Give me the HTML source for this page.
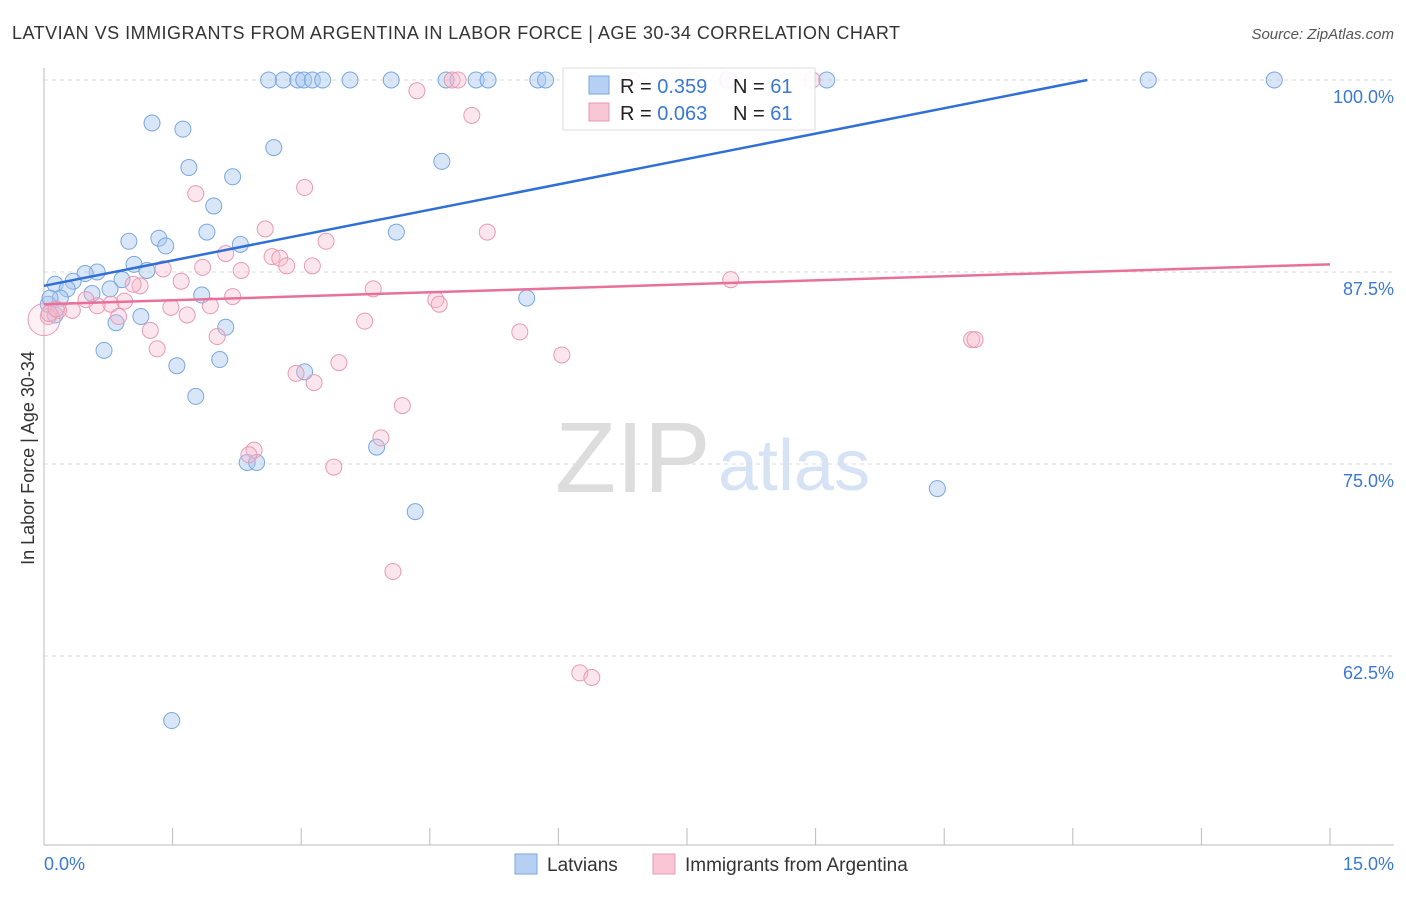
<!DOCTYPE html>
<html><head><meta charset="utf-8"><style>
body{margin:0;background:#fff;font-family:"Liberation Sans",sans-serif;}
svg text{font-family:"Liberation Sans",sans-serif;}
</style></head><body>
<svg id="c" width="1406" height="892">
<text x="12" y="39" font-size="18" fill="#333" textLength="888">LATVIAN VS IMMIGRANTS FROM ARGENTINA IN LABOR FORCE | AGE 30-34 CORRELATION CHART</text>
<text x="1394" y="39" font-size="15" fill="#555" font-style="italic" text-anchor="end">Source: ZipAtlas.com</text>
<text transform="translate(34,458) rotate(-90)" font-size="18" fill="#333" text-anchor="middle">In Labor Force | Age 30-34</text>
<text x="555" y="492" font-size="100" fill="#ddd" font-family="Liberation Serif">ZIP</text>
<text x="718" y="490" font-size="72" fill="#d5e3f5">atlas</text>
<g id="grid"></g><g id="pts"></g><g id="lines"></g>
<g>
<rect x="563" y="68" width="252" height="62" fill="#fff" fill-opacity="0.9" stroke="#ddd"/>
<rect x="589" y="76" width="20" height="18" fill="#b5d0f3" stroke="#7aa7e0"/>
<text x="620" y="93" font-size="20" fill="#222">R = <tspan fill="#3a78d4">0.359</tspan></text>
<text x="733" y="93" font-size="20" fill="#222">N = <tspan fill="#3a78d4">61</tspan></text>
<rect x="589" y="103" width="20" height="18" fill="#f9c6d5" stroke="#e89ab4"/>
<text x="620" y="120" font-size="20" fill="#222">R = <tspan fill="#3a78d4">0.063</tspan></text>
<text x="733" y="120" font-size="20" fill="#222">N = <tspan fill="#3a78d4">61</tspan></text>
</g>
<g>
<rect x="515" y="854" width="22" height="20" fill="#b5d0f3" stroke="#7aa7e0"/>
<text x="547" y="871" font-size="19" fill="#333">Latvians</text>
<rect x="653" y="854" width="22" height="20" fill="#f9c6d5" stroke="#e89ab4"/>
<text x="685" y="871" font-size="19" fill="#333">Immigrants from Argentina</text>
</g>
<text x="44" y="870" font-size="18" fill="#3a78d4">0.0%</text>
<text x="1394" y="870" font-size="18" fill="#3a78d4" text-anchor="end">15.0%</text>
</svg>
<script>
const yTicks=[100,87.5,75,62.5];
const yTickLabels=["100.0%","87.5%","75.0%","62.5%"];
const xTicks=[0,1.5,3,4.5,6,7.5,9,10.5,12,13.5,15];
const latX=[2.62,2.79,2.96,3.03,3.13,3.25,3.57,4.05,4.69,5.04,5.18,5.76,5.85,7.97,9.13,12.88,14.35,1.26,1.62,1.69,2.68,4.64,2.2,1.98,1.9,0.99,1.34,1.42,2.29,4.11,1.05,1.2,0.62,0.48,0.34,0.13,0.27,0.91,0.77,0.56,0.19,0.05,1.84,5.63,1.13,0.84,2.12,0.7,2.05,1.55,3.04,1.77,3.88,2.37,2.48,10.42,4.33,1.49,0.13,0.07];
const latY=[100,100,100,100,100,100,100,100,100,100,100,100,100,100,100,100,100,97.2,96.8,94.3,95.6,94.7,93.7,91.8,90.1,89.5,89.7,89.2,89.3,90.1,88.0,87.6,87.5,87.4,86.9,86.7,86.4,87.0,86.4,86.1,85.8,85.4,86.0,85.8,84.6,84.2,83.9,82.4,81.8,81.4,81.0,79.4,76.1,75.1,75.1,73.4,71.9,58.3,84.7,85.8];
const argX=[6.86,8.96,4.76,4.83,7.98,4.35,4.99,1.77,3.04,5.17,2.58,3.29,2.66,2.75,2.12,1.85,2.3,2.83,3.13,1.39,1.6,1.12,1.04,3.84,4.57,4.61,8.01,0.94,0.78,0.62,0.49,0.33,0.17,0.05,0,1.48,1.67,1.94,2.2,0.87,1.24,3.74,5.55,2.02,1.32,6.04,3.44,2.94,3.15,10.82,10.86,4.18,3.93,2.45,2.39,3.38,4.07,6.25,6.39,0.06,0.14];
const argY=[100,100,100,100,100,99.3,97.7,92.6,93.0,90.1,90.3,89.5,88.5,88.4,88.7,87.8,87.6,87.9,87.9,87.7,86.9,86.6,86.7,86.4,85.7,85.4,87.0,85.6,85.4,85.3,85.7,85.0,85.0,84.6,84.4,85.2,84.7,85.3,85.9,84.6,83.7,84.3,83.6,83.3,82.5,82.1,81.6,80.9,80.3,83.1,83.1,78.8,76.7,75.9,75.6,74.8,68.0,61.4,61.1,84.8,85.1];
const fitLat=[[0,86.6],[12.17,100]];
const fitArg=[[0,85.4],[15,88.0]];
const X=v=>44+v/15*1286, Y=v=>80+(100-v)/12.5*192;
const NS="http://www.w3.org/2000/svg";
const mk=(t,a,p)=>{const e=document.createElementNS(NS,t);for(const k in a)e.setAttribute(k,a[k]);p.appendChild(e);return e;};
const g=document.getElementById('grid');
yTicks.forEach((t,i)=>{
 const l=mk('line',{x1:44,x2:1394,y1:Y(t),y2:Y(t),stroke:'#ddd','stroke-dasharray':'4,4'},g);
 
 
 const tx=mk('text',{x:1394,y:Y(t)+23,'font-size':18,fill:'#3a78d4','text-anchor':'end'},g);
 tx.textContent=yTickLabels[i];
 
 
});
const ax=mk('line',{x1:44,x2:1394,y1:845,y2:845,stroke:'#bbb'},g);


const ay=mk('line',{x1:44,x2:44,y1:68,y2:845,stroke:'#bbb'},g);


xTicks.forEach(t=>{
 const l=mk('line',{x1:X(t),x2:X(t),y1:828,y2:845,stroke:'#bbb'},g);
 
 
});
const p=document.getElementById('pts');
latX.forEach((x,i)=>{
 const c=mk('circle',{cx:X(x),cy:Y(latY[i]),r:8,fill:'#a9c8f0','fill-opacity':0.45,stroke:'#7aa7e0','stroke-width':1},p);
 
 
});
argX.forEach((x,i)=>{
 const c=mk('circle',{cx:X(x),cy:Y(argY[i]),r:i==34?16:8,fill:'#f6b8cb','fill-opacity':i==34?0.2:0.35,stroke:'#e89ab4','stroke-width':1},p);
 
 
});
const L=document.getElementById('lines');
const a=mk('line',{x1:X(fitLat[0][0]),y1:Y(fitLat[0][1]),x2:X(fitLat[1][0]),y2:Y(fitLat[1][1]),stroke:'#2f6fd6','stroke-width':2.5},L);


const b=mk('line',{x1:X(fitArg[0][0]),y1:Y(fitArg[0][1]),x2:X(fitArg[1][0]),y2:Y(fitArg[1][1]),stroke:'#e8709a','stroke-width':2.5},L);


</script>
</body></html>
